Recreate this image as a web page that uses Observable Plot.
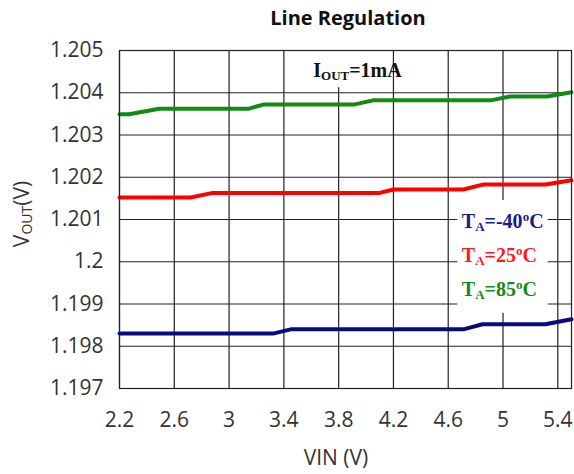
<!DOCTYPE html>
<html><head><meta charset="utf-8">
<script src="https://cdn.jsdelivr.net/npm/d3@7"></script>
<script src="https://cdn.jsdelivr.net/npm/@observablehq/plot@0.6"></script>
<style>body{margin:0;background:#fff;}</style>
</head><body><div id="chart"></div>
<script>
// ---- data ----
const xTicks = [2.2, 2.6, 3, 3.4, 3.8, 4.2, 4.6, 5, 5.4];
const yTicks = [1.197, 1.198, 1.199, 1.2, 1.201, 1.202, 1.203, 1.204, 1.205];

const vinNeg40 = [2.2, 3.32, 3.45, 4.71, 4.85, 5.31, 5.5];
const voutNeg40 = [1.19830, 1.19830, 1.19840, 1.19840, 1.19852, 1.19852, 1.19864];

const vin25 = [2.2, 2.72, 2.88, 4.10, 4.20, 4.71, 4.86, 5.31, 5.5];
const vout25 = [1.20152, 1.20152, 1.20163, 1.20163, 1.20171, 1.20171, 1.20183, 1.20183, 1.20193];

const vin85 = [2.2, 2.27, 2.49, 3.14, 3.25, 3.91, 4.05, 4.91, 5.05, 5.32, 5.5];
const vout85 = [1.20349, 1.20349, 1.20362, 1.20362, 1.20372, 1.20372, 1.20382, 1.20382, 1.20391, 1.20391, 1.20401];

const seriesNames = ["-40", "25", "85"];
const seriesColors = ["#0a0a80", "#ff0000", "#138a13"];
const textColors = ["#1a1a8c", "#ff1a1a", "#168a16"];

// annotation anchors (data units)
const legendX = 4.703;
const legendY = [1.200792, 1.199988, 1.199184];
const ioutX = 3.618, ioutY = 1.20436;
// white boxes behind annotations (data units)
const boxX1 = [3.6, 4.67], boxX2 = [4.1, 5.33];
const boxY1 = [1.20412, 1.19878], boxY2 = [1.205, 1.20145];

const toRows = (xs, ys) => xs.map((x, i) => ({vin: x, vout: ys[i]}));
const rows = [toRows(vinNeg40, voutNeg40), toRows(vin25, vout25), toRows(vin85, vout85)];
const boxes = boxX1.map((x, i) => ({x1: x, x2: boxX2[i], y1: boxY1[i], y2: boxY2[i]}));

const W = 574, H = 474, mT = 50, mR = 3, mB = 86, mL = 119;
const fmt = d => String(+d.toFixed(3));
const font = "Open Sans";
const gridStyle = {stroke: "#222", strokeOpacity: 1, strokeWidth: 1.2};

const plot = Plot.plot({
  width: W, height: H, marginTop: mT, marginRight: mR, marginBottom: mB, marginLeft: mL,
  style: {fontFamily: font, fontSize: "21px", color: "#333", background: "#fff"},
  x: {domain: [2.2, 5.5], label: null},
  y: {domain: [1.197, 1.205], label: null},
  marks: [
    Plot.gridX(xTicks, gridStyle),
    Plot.gridY(yTicks, gridStyle),
    Plot.rect(boxes, {x1: "x1", x2: "x2", y1: "y1", y2: "y2", fill: "white"}),
    ...rows.map((r, i) => Plot.line(r, {x: "vin", y: "vout", stroke: seriesColors[i], strokeWidth: 4})),
    Plot.frame({stroke: "#222", strokeWidth: 1.2}),
    Plot.axisX(xTicks, {tickSize: 0, tickPadding: 24, tickFormat: fmt, fontSize: 21, fill: "#333"}),
    Plot.axisY(yTicks, {tickSize: 0, tickPadding: 16, tickFormat: fmt, fontSize: 21, fill: "#333"})
  ]
});
document.getElementById("chart").appendChild(plot);

const svg = d3.select(plot);
const sx = plot.scale("x"), sy = plot.scale("y");

// title
svg.append("text").attr("x", 348).attr("y", 25).attr("text-anchor", "middle")
  .attr("font-family", font).attr("font-weight", "bold").attr("font-size", 20).attr("fill", "#111")
  .text("Line Regulation");

// x label
svg.append("text").attr("x", 336).attr("y", 465).attr("text-anchor", "middle")
  .attr("font-family", font).attr("font-size", 21).attr("fill", "#333").text("VIN (V)");

// y label
const yl = svg.append("text").attr("transform", "translate(29,214) rotate(-90)").attr("text-anchor", "middle")
  .attr("font-family", font).attr("font-size", 21).attr("fill", "#333");
yl.append("tspan").text("V");
yl.append("tspan").attr("font-size", 14).attr("dy", 3).text("OUT");
yl.append("tspan").attr("dy", -3).text("(V)");

// IOUT annotation
const io = svg.append("text").attr("x", sx.apply(ioutX)).attr("y", sy.apply(ioutY)).attr("text-anchor", "start")
  .attr("font-family", "Liberation Serif").attr("font-weight", "bold").attr("font-size", 20).attr("fill", "#111");
io.append("tspan").text("I");
io.append("tspan").attr("font-size", 13).attr("dy", 3).text("OUT");
io.append("tspan").attr("dy", -3).text("=1mA");

// legend
seriesNames.forEach((n, i) => {
  const t = svg.append("text").attr("x", sx.apply(legendX)).attr("y", sy.apply(legendY[i])).attr("text-anchor", "start")
    .attr("font-family", "Liberation Serif").attr("font-weight", "bold").attr("font-size", 20).attr("fill", textColors[i]);
  t.append("tspan").text("T");
  t.append("tspan").attr("font-size", 13).attr("dy", 3).text("A");
  t.append("tspan").attr("dy", -3).text("=" + n);
  t.append("tspan").attr("font-size", 13).attr("dy", -7).text("o");
  t.append("tspan").attr("dy", 7).text("C");
});
</script>
</body></html>
